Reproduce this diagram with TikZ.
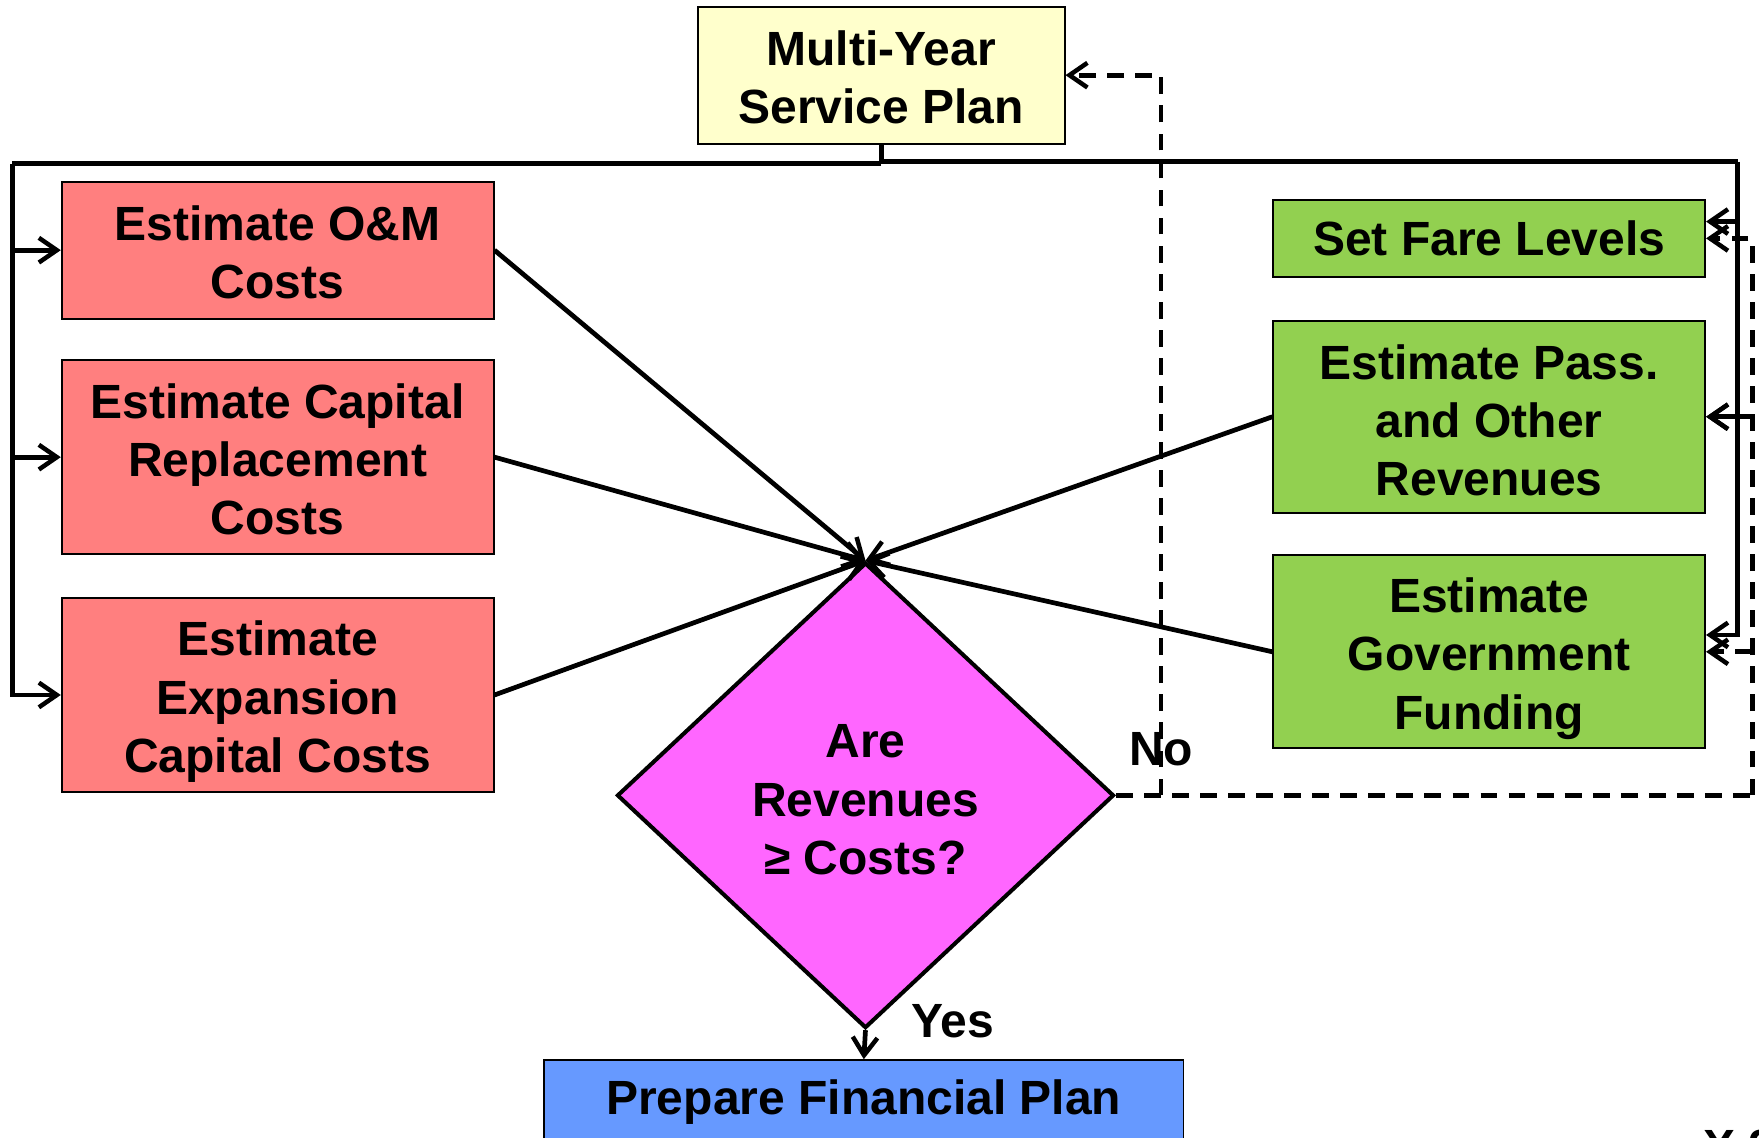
\documentclass[tikz,border=0pt]{standalone}
\usepackage{fontspec}
\setmainfont{Liberation Sans}
\usetikzlibrary{shapes.geometric,arrows.meta,calc}
\definecolor{cyellow}{HTML}{FFFFCC}
\definecolor{cred}{HTML}{FF7F7F}
\definecolor{cgreen}{HTML}{92D050}
\definecolor{cmag}{HTML}{FF66FF}
\definecolor{cblue}{HTML}{6699FF}
\newcommand\lift[1]{\rule{0pt}{#1}}
\begin{document}
\begin{tikzpicture}[x=0.5pt,y=-0.5pt,
  txt/.style={font=\fontsize{21.4}{26}\selectfont\bfseries},
  box/.style={txt, draw=black, line width=0.8pt, align=center, inner sep=0pt},
  conn/.style={line width=2.1pt},
  arr/.style={conn, -{Straight Barb[length=8pt,width=11pt,line width=2pt]}},
  fb/.style={line width=2.1pt, dash pattern=on 7.5pt off 5pt},
  fbarr/.style={fb, -{Straight Barb[length=8pt,width=11pt,line width=2pt]}},
  lbl/.style={txt, inner sep=0pt}
]
\useasboundingbox (0,0) rectangle (1568,1014);
\clip (0,0) rectangle (1568,1014);

% nodes
\node[box, fill=cyellow, minimum width=163.5pt, minimum height=61pt] (myp) at (785.5,67) {\lift{17.6pt}Multi-Year\\Service Plan};
\node[box, fill=cred, minimum width=192.5pt, minimum height=61pt] (om) at (247.5,223) {\lift{17.6pt}Estimate O\&M\\Costs};
\node[box, fill=cred, minimum width=192.5pt, minimum height=86.5pt] (cap) at (247.5,407.5) {\lift{17.6pt}Estimate Capital\\Replacement\\Costs};
\node[box, fill=cred, minimum width=192.5pt, minimum height=86.5pt] (exp) at (247.5,619.5) {\lift{21.6pt}Estimate\\Expansion\\Capital Costs};
\node[box, fill=cgreen, minimum width=192.5pt, minimum height=34.5pt] (fare) at (1327.5,212.5) {Set Fare Levels};
\node[box, fill=cgreen, minimum width=192.5pt, minimum height=85.5pt] (pass) at (1327.5,371.5) {\lift{18.6pt}Estimate Pass.\\and Other\\Revenues};
\node[box, fill=cgreen, minimum width=192.5pt, minimum height=86pt] (gov) at (1327.5,581) {\lift{21.6pt}Estimate\\Government\\Funding};
\node[diamond, draw=black, line width=1.8pt, fill=cmag, minimum width=221.5pt, minimum height=207.5pt, inner sep=0pt, align=center, txt] (dec) at (771.5,709) {\lift{18.6pt}Are\\Revenues\\≥ Costs?};
\node[box, fill=cblue, minimum width=285pt, minimum height=37.5pt] (fin) at (770,982.5) {Prepare Financial Plan};

\node[lbl] (no) at (1035,668) {No};
\node[lbl] (yes) at (849,910) {Yes};
\node[lbl, anchor=base west] (xtwo) at (1518,1037) {X 2};

% bus from service plan
\coordinate (bj) at (785.5,145);
\coordinate (bl) at (11,146);
\coordinate (bjl) at (785.5,146);
\coordinate (br) at (1549,144);
\coordinate (bjr) at (785.5,144);
\coordinate (fs) at ($(fare.east)+(0,-15)$);
\coordinate (gs) at ($(gov.east)+(0,-15)$);
\draw[conn] (myp.south) -- (bj);
\draw[conn] (bjl) -- (bl);
\draw[conn] (bjr) -- (br);
\draw[arr] (bl) |- (exp.west);
\draw[arr] (bl |- om.west) -- (om.west);
\draw[arr] (bl |- cap.west) -- (cap.west);
\draw[arr] (br) |- (gs);
\draw[arr] (br |- fs) -- (fs);
\draw[arr] (br |- pass.east) -- (pass.east);

% into decision
\draw[arr] (om.east) -- (dec.north);
\draw[arr] (cap.east) -- (dec.north);
\draw[arr] (exp.east) -- (dec.north);
\draw[arr] (pass.west) -- (dec.north);
\draw[arr] (gov.west) -- (dec.north);

% yes
\draw[arr] (dec.south) -- (fin.north);

% no feedback (dashed)
\coordinate (dr) at (1562,709);
\coordinate (dv) at (1035,709);
\draw[fb] (dec.east) -- (dr);
\draw[fbarr] (dr) |- (fare.east);
\draw[fbarr] (dr |- pass.east) -- (pass.east);
\draw[fbarr] (dr |- gov.east) -- (gov.east);
\draw[fbarr] (dv) |- (myp.east);
\end{tikzpicture}
\end{document}
